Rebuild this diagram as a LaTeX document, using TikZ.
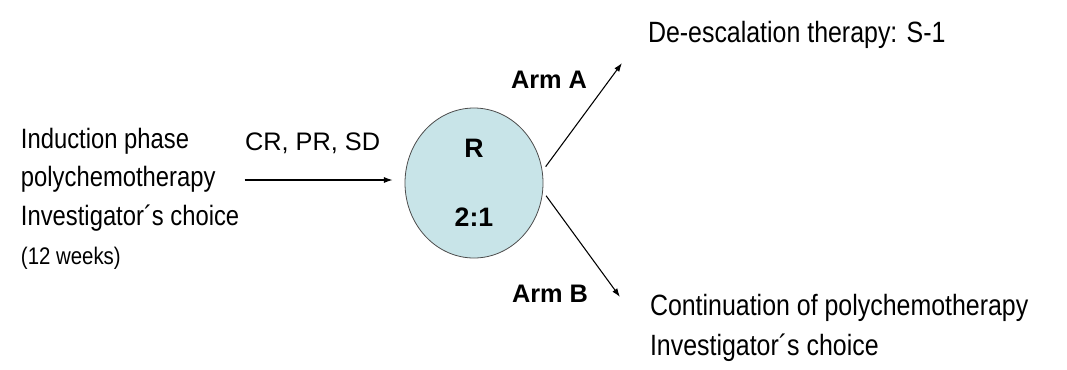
\documentclass[tikz,border=0pt]{standalone}
\usepackage{fontspec}
\setmainfont{Liberation Sans}
\newfontfamily\estrecha[FakeStretch=0.85]{Liberation Sans}
\usetikzlibrary{shapes.geometric, arrows.meta, positioning}
\definecolor{azulr}{RGB}{200,228,232}

\begin{document}
\begin{tikzpicture}[x=0.75pt, y=-0.75pt,
    % Estilos de nodos y flechas
    base/.style = {inner sep=0pt, outer sep=0pt, align=left},
    textoizq/.style = {base, font=\estrecha\fontsize{21}{29}\selectfont},
    textoder/.style = {base, font=\estrecha\fontsize{22}{30}\selectfont},
    etiqueta/.style = {base, font=\fontsize{19}{22}\selectfont},
    rama/.style = {base, font=\bfseries\fontsize{19}{22}\selectfont},
    sorteo/.style = {ellipse, draw=black!70, line width=0.6pt, fill=azulr,
        minimum width=103.5pt, minimum height=112.5pt, align=center,
        font=\bfseries\fontsize{20}{52}\selectfont},
    flecha/.style = {line width=0.8pt, -{Latex[length=6.5pt, width=4.5pt]}}
]
\useasboundingbox (0,0) rectangle (1067,369);

% ===============================
% 1. Nodos
% ===============================
\node (induc) [textoizq, anchor=north west] at (21,128)
    {Induction phase\\ polychemotherapy\\ Investigator´s choice\\ {\fontsize{18}{20}\selectfont(12 weeks)}};
\node (rand) [sorteo] at (474,183) {R\\ 2:1};
\node (resp) [etiqueta, anchor=base west] at (245,150) {CR, PR, SD};

\node (deesc) [textoder, anchor=north west] at (648,21) {De-escalation therapy: S-1};
\node (cont) [textoder, anchor=north west] at (650,294)
    {Continuation of polychemotherapy\\ Investigator´s choice};

\node (armA) [rama, anchor=base west] at (511,88) {Arm A};
\node (armB) [rama, anchor=base west] at (512,302) {Arm B};

\coordinate (finA) at (622,63);
\coordinate (finB) at (620,297);

% ===============================
% 2. Flechas
% ===============================
\draw [flecha] ([xshift=4pt, yshift=2.25pt]induc.east |- rand.west) -- ([xshift=-9pt, yshift=2.25pt]rand.west);
\draw [flecha, shorten <=4pt] (rand.10) -- (finA);
\draw [flecha, shorten <=4pt] (rand.-7) -- (finB);

\end{tikzpicture}
\end{document}
